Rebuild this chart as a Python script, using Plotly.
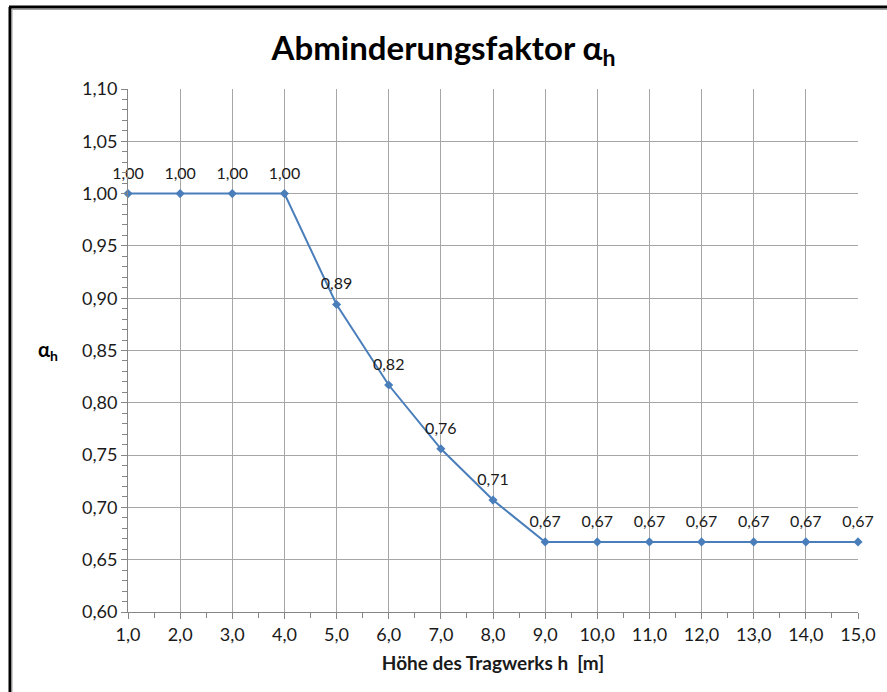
import plotly.graph_objects as go

hoehe = [1, 2, 3, 4, 5, 6, 7, 8, 9, 10, 11, 12, 13, 14, 15]
alpha_h = [1.00, 1.00, 1.00, 1.00, 0.894, 0.817, 0.756, 0.707, 0.667, 0.667, 0.667, 0.667, 0.667, 0.667, 0.667]

W, H = 887, 692
L, R, T, B = 128, 29, 89, 80
pw, ph = W - L - R, H - T - B

def px_x(x):
    return (x - L) / pw

def px_y(y):
    return (H - B - y) / ph

FONT = "Lato"
fig = go.Figure()
fig.add_trace(go.Scatter(
    x=hoehe, y=alpha_h, mode="lines+markers",
    line=dict(color="#4a7ebb", width=2),
    marker=dict(symbol="diamond", size=7, color="#4a7ebb"),
    cliponaxis=False, showlegend=False, hoverinfo="x+y",
))
# data labels (invisible larger markers give the labels their offset)
fig.add_trace(go.Scatter(
    x=hoehe, y=alpha_h, mode="markers+text",
    marker=dict(size=16, opacity=0, color="#4a7ebb"),
    texttemplate="%{y:.2f}", textposition="top center",
    textfont=dict(family=FONT, size=16, color="#1a1a1a"),
    cliponaxis=False, showlegend=False, hoverinfo="skip",
))

grid = "#a6a6a6"
axisc = "#868686"
fig.update_layout(
    width=W, height=H, separators=",.",
    paper_bgcolor="white", plot_bgcolor="white",
    margin=dict(l=L, r=R, t=T, b=B, pad=0),
    font=dict(family=FONT, color="#1a1a1a"),
    title=dict(text="<b>Abminderungsfaktor α<sub>h</sub></b>", x=0.5, xanchor="center",
               y=1 - 48 / H, yanchor="middle", yref="container",
               font=dict(family=FONT, size=33, color="black")),
    xaxis=dict(range=[1, 15], dtick=1, tick0=1, tickformat=".1f",
               showgrid=True, gridcolor=grid, gridwidth=1,
               showline=True, linecolor=axisc, linewidth=1, mirror=False,
               ticks="outside", ticklen=6, tickcolor=axisc,
               minor=dict(dtick=0.5, ticks="outside", ticklen=5, tickcolor=axisc, showgrid=False),
               tickfont=dict(family=FONT, size=18, color="#1a1a1a"),
               title=dict(text="<b>Höhe des Tragwerks h \u00a0[m]</b>", standoff=13,
                          font=dict(family=FONT, size=19, color="#1a1a1a")),
               zeroline=False),
    yaxis=dict(range=[0.60, 1.10], dtick=0.05, tick0=0.6, tickformat=".2f",
               showgrid=True, gridcolor=grid, gridwidth=1,
               showline=True, linecolor=axisc, linewidth=1,
               ticks="outside", ticklen=6, tickcolor=axisc,
               minor=dict(dtick=0.01, ticks="outside", ticklen=5, tickcolor=axisc, showgrid=False),
               tickfont=dict(family=FONT, size=18, color="#1a1a1a"),
               zeroline=False),
)

fig.add_annotation(text="<b>α<sub>h</sub></b>", xref="paper", yref="paper",
                   x=px_x(48), y=0.5, showarrow=False, xanchor="center", yanchor="middle",
                   font=dict(family=FONT, size=20, color="black"))

# outer frame (left and top edges visible)
fig.add_shape(type="line", xref="paper", yref="paper", x0=px_x(10), x1=px_x(10),
              y0=px_y(7), y1=px_y(H + 5), line=dict(color="black", width=3))
fig.add_shape(type="line", xref="paper", yref="paper", x0=px_x(12), x1=px_x(12),
              y0=px_y(9), y1=px_y(H + 5), line=dict(color="#a0a0a0", width=1))
fig.add_shape(type="line", xref="paper", yref="paper", x0=px_x(9), x1=px_x(W + 5),
              y0=px_y(7), y1=px_y(7), line=dict(color="black", width=3))
fig.add_shape(type="line", xref="paper", yref="paper", x0=px_x(11), x1=px_x(W + 5),
              y0=px_y(9.5), y1=px_y(9.5), line=dict(color="#a0a0a0", width=1))

fig.write_html("out.html", config={"displayModeBar": False},
               post_script="document.body.style.margin='0';document.body.style.overflow='hidden';")
